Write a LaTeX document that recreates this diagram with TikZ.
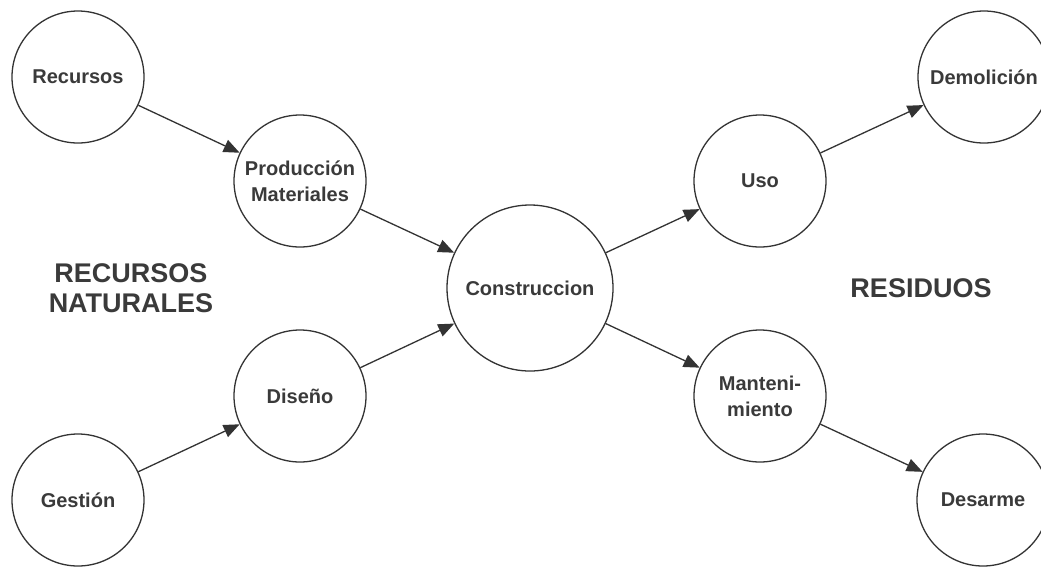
\documentclass[tikz,border=0pt]{standalone}
\usepackage{fontspec}
\setmainfont{Liberation Sans}
\usetikzlibrary{arrows.meta}
\definecolor{ink}{HTML}{333333}
\definecolor{txt}{HTML}{3A3A3A}
\tikzset{
  stage/.style={circle, draw=ink, line width=1.3pt, minimum size=132pt, inner sep=0pt,
    align=center, text=txt, font=\fontsize{20}{26}\selectfont\bfseries},
  bigstage/.style={stage, minimum size=166pt},
  title/.style={align=center, text=txt, font=\fontsize{27}{30}\selectfont\bfseries},
  flow/.style={draw=ink, line width=1.3pt, -{Triangle[length=16pt,width=13pt]}}
}
\begin{document}
\begin{tikzpicture}[x=1pt,y=-1pt]
\useasboundingbox (0,0) rectangle (1041,566);
\clip (0,0) rectangle (1041,566);
\fill[white] (0,0) rectangle (1041,566);
\node[stage] (rec) at (78,77) {Recursos};
\node[stage] (prod) at (300,181) {Producción\\Materiales};
\node[stage] (dis) at (300,396) {Diseño};
\node[stage] (ges) at (78,500) {Gestión};
\node[bigstage] (con) at (530,288) {Construccion};
\node[stage] (uso) at (760,181) {Uso};
\node[stage] (man) at (760,396) {Manteni-\\miento};
\node[stage] (dem) at (984,77) {Demolición};
\node[stage] (des) at (983,500) {Desarme};
\node[title] (rn) at (131,288) {RECURSOS\\NATURALES};
\node[title] (res) at (921,288) {RESIDUOS};
\draw[flow] (rec) -- (prod);
\draw[flow] (ges) -- (dis);
\draw[flow] (prod) -- (con);
\draw[flow] (dis) -- (con);
\draw[flow] (con) -- (uso);
\draw[flow] (con) -- (man);
\draw[flow] (uso) -- (dem);
\draw[flow] (man) -- (des);
\end{tikzpicture}
\end{document}
